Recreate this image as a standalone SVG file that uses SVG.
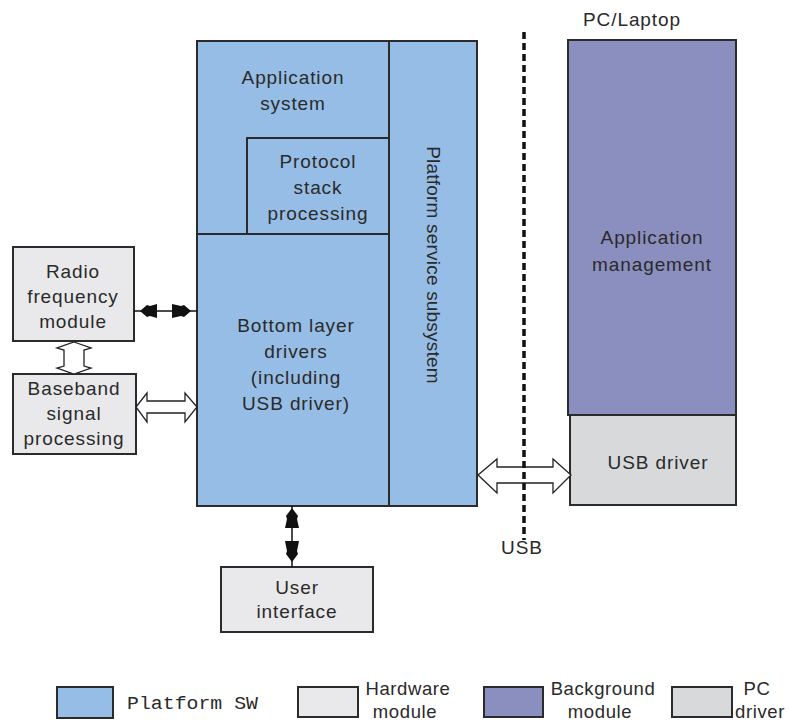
<svg xmlns="http://www.w3.org/2000/svg" width="789" height="722" viewBox="0 0 789 722">
<style>
.t{font-family:"Liberation Sans",Arial,sans-serif;font-size:19px;letter-spacing:0.9px;fill:#2a2a2a;text-anchor:middle}
.lg{font-family:"Liberation Sans",Arial,sans-serif;font-size:18.5px;letter-spacing:0.6px;fill:#2a2a2a;text-anchor:middle}
.plat{fill:#96bde5;stroke:#2b2b2b;stroke-width:2}
.hw{fill:#e9e9eb;stroke:#2b2b2b;stroke-width:2}
.bg{fill:#8a8fc0;stroke:#2b2b2b;stroke-width:2}
.pc{fill:#d8d9db;stroke:#2b2b2b;stroke-width:2}
.hollow{fill:#fff;stroke:#222;stroke-width:1.3}
.solid{fill:#111;stroke:none}
</style>
<rect width="789" height="722" fill="#fff"/>

<g id="platform-service">
<rect class="plat" x="389" y="41" width="88" height="465"/>
<text class="t" style="letter-spacing:0.2px" transform="translate(433,265) rotate(90)" dy="6">Platform service subsystem</text>
</g>
<g id="application-system">
<rect class="plat" x="197" y="41" width="192" height="193"/>
<text class="t" x="293" y="84">Application</text>
<text class="t" x="293" y="110">system</text>
</g>
<g id="protocol-stack">
<rect class="plat" x="247" y="138" width="142" height="96"/>
<text class="t" x="318" y="168">Protocol</text>
<text class="t" x="318" y="194">stack</text>
<text class="t" x="318" y="220">processing</text>
</g>
<g id="bottom-layer">
<rect class="plat" x="197" y="234" width="192" height="272"/>
<text class="t" x="296" y="332">Bottom layer</text>
<text class="t" x="296" y="358">drivers</text>
<text class="t" x="296" y="384">(including</text>
<text class="t" x="296" y="410">USB driver)</text>
</g>
<g id="radio-frequency">
<rect class="hw" x="13" y="247" width="121" height="94"/>
<text class="t" x="73" y="278">Radio</text>
<text class="t" x="73" y="303">frequency</text>
<text class="t" x="73" y="328">module</text>
</g>
<g id="baseband">
<rect class="hw" x="13" y="374" width="123" height="80"/>
<text class="t" x="74" y="395">Baseband</text>
<text class="t" x="74" y="420">signal</text>
<text class="t" x="74" y="445">processing</text>
</g>
<g id="user-interface">
<rect class="hw" x="221" y="567" width="152" height="65"/>
<text class="t" x="297" y="594">User</text>
<text class="t" x="297" y="618">interface</text>
</g>
<g id="application-management">
<rect class="bg" x="568" y="40" width="168" height="375"/>
<text class="t" x="652" y="244">Application</text>
<text class="t" x="652" y="271">management</text>
</g>
<g id="usb-driver">
<rect class="pc" x="570" y="415" width="166" height="90"/>
<text class="t" x="658" y="469">USB driver</text>
</g>
<g id="labels">
<text class="t" x="632" y="26">PC/Laptop</text>
<text class="t" x="522" y="554">USB</text>
</g>

<g id="connectors">
<line x1="134" y1="311" x2="197" y2="311" stroke="#111" stroke-width="1.5"/>
<polygon class="solid" points="140,311 147,305 150,306 157,304 157,318 150,316 147,317"/>
<polygon class="solid" points="191,311 184,305 181,306 172,304 172,318 181,316 184,317"/>
<line x1="292" y1="506" x2="292" y2="567" stroke="#111" stroke-width="1.5"/>
<polygon class="solid" points="292,508 286,516 287,519 285,528 299,528 297,519 298,516"/>
<polygon class="solid" points="292,562 286,554 287,551 285,541 299,541 297,551 298,554"/>
<polygon class="hollow" points="74,342 91,348 84,350 84,366 91,368 74,374 57,368 64,366 64,350 57,348"/>
<polygon class="hollow" points="136,407 147,393 147,401 185,401 185,393 197,407 185,422 185,413 147,413 147,422"/>
<polygon class="hollow" points="478,475 497,459 497,467 553,467 553,459 571,475 553,493 553,483 497,483 497,493"/>
<line x1="524" y1="32" x2="524" y2="540" stroke="#111" stroke-width="3.5" stroke-dasharray="7,4"/>
</g>

<g id="legend">
<rect class="plat" x="57" y="687" width="56" height="31"/>
<text x="127" y="709" font-family="'Liberation Mono',monospace" font-size="18" fill="#2a2a2a" textLength="131" lengthAdjust="spacingAndGlyphs">Platform SW</text>
<rect class="hw" x="298" y="687" width="60" height="30"/>
<text class="lg" x="408" y="695">Hardware</text>
<text class="lg" x="405" y="718">module</text>
<rect class="bg" x="484" y="687" width="59" height="30"/>
<text class="lg" x="603" y="695">Background</text>
<text class="lg" x="600" y="718">module</text>
<rect class="pc" x="672" y="687" width="60" height="30"/>
<text class="lg" x="757" y="695">PC</text>
<text class="lg" x="760" y="718">driver</text>
</g>
</svg>
